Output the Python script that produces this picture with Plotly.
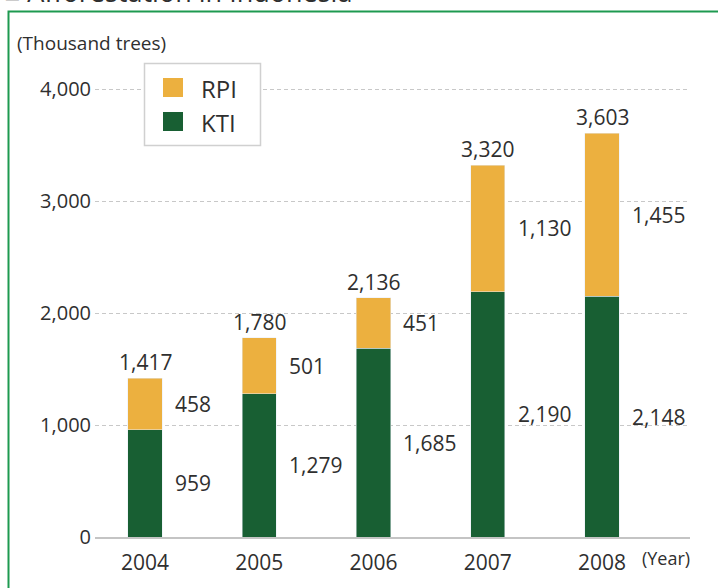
import plotly.graph_objects as go

# Afforestation volumes (thousand trees)
years = ["2004", "2005", "2006", "2007", "2008"]
kti = [959, 1279, 1685, 2190, 2148]
rpi = [458, 501, 451, 1130, 1455]
totals = [1417, 1780, 2136, 3320, 3603]
series_names = ["RPI", "KTI"]

W, H = 718, 588
ML, MR, MT, MB = 95, 28, 67, 51
PW, PH = W - ML - MR, H - MT - MB

ORANGE = "#ECB03F"
GREEN = "#185F33"
TEXT = "#2f2f2f"
FONT = "Open Sans"


def px(x):
    return (x - ML) / PW


def py(y):
    return (H - MB - y) / PH


xs = list(range(len(years)))
bar_w = 0.298

fig = go.Figure()
fig.add_trace(go.Bar(x=xs, y=kti, name=series_names[1], marker_color=GREEN,
                     width=bar_w, showlegend=False))
fig.add_trace(go.Bar(x=xs, y=rpi, name=series_names[0], marker_color=ORANGE,
                     width=bar_w, showlegend=False))

ann = []
# segment values beside each bar, totals above
for i in xs:
    ann.append(dict(x=i + 0.245, y=kti[i] / 2, xref="x", yref="y", text=f"{kti[i]:,}",
                    xanchor="left", yanchor="middle", showarrow=False,
                    font=dict(size=21, color=TEXT, family=FONT)))
    ann.append(dict(x=i + 0.245, y=kti[i] + rpi[i] / 2, xref="x", yref="y",
                    text=f"{rpi[i]:,}", xanchor="left", yanchor="middle", showarrow=False,
                    font=dict(size=21, color=TEXT, family=FONT)))
    ann.append(dict(x=i, y=totals[i], xref="x", yref="y", text=f"{totals[i]:,}",
                    xanchor="center", yanchor="bottom", yshift=0, showarrow=False,
                    font=dict(size=21, color=TEXT, family=FONT)))

# unit labels and heading
ann.append(dict(x=px(15), y=py(43), xref="paper", yref="paper", text="(Thousand trees)",
                xanchor="left", yanchor="middle", showarrow=False,
                font=dict(size=19, color=TEXT, family=FONT)))
ann.append(dict(x=px(640), y=py(558), xref="paper", yref="paper", text="(Year)",
                xanchor="left", yanchor="middle", showarrow=False,
                font=dict(size=18, color=TEXT, family=FONT)))
ann.append(dict(x=px(2), y=py(-9), xref="paper", yref="paper",
                text="■ Afforestation in Indonesia",
                xanchor="left", yanchor="middle", showarrow=False,
                font=dict(size=27, color=TEXT, family=FONT)))

# legend entries
ann.append(dict(x=px(199), y=py(88), xref="paper", yref="paper", text=series_names[0],
                xanchor="left", yanchor="middle", showarrow=False,
                font=dict(size=24, color=TEXT, family=FONT)))
ann.append(dict(x=px(199), y=py(122), xref="paper", yref="paper", text=series_names[1],
                xanchor="left", yanchor="middle", showarrow=False,
                font=dict(size=24, color=TEXT, family=FONT)))

shapes = [
    # outer frame
    dict(type="rect", xref="paper", yref="paper", x0=px(8.5), x1=px(740),
         y0=py(11.5), y1=py(620), line=dict(color="#1E9A50", width=2),
         fillcolor="rgba(0,0,0,0)"),
    # legend box and swatches
    dict(type="rect", xref="paper", yref="paper", x0=px(144.5), x1=px(260.5),
         y0=py(63.5), y1=py(145.5), line=dict(color="#d0d0d0", width=1.5),
         fillcolor="white"),
    dict(type="rect", xref="paper", yref="paper", x0=px(163), x1=px(183),
         y0=py(78), y1=py(97), line=dict(width=0), fillcolor=ORANGE),
    dict(type="rect", xref="paper", yref="paper", x0=px(163), x1=px(183),
         y0=py(112), y1=py(131), line=dict(width=0), fillcolor=GREEN),
]

fig.update_layout(
    width=W, height=H,
    margin=dict(l=ML, r=MR, t=MT, b=MB),
    paper_bgcolor="white", plot_bgcolor="white",
    barmode="stack",
    annotations=ann,
    shapes=shapes,
    font=dict(family=FONT, color=TEXT),
    xaxis=dict(range=[(ML - 145) / 114.25, (ML + PW - 145) / 114.25],
               tickvals=xs, ticktext=years, showgrid=False, zeroline=False,
               showline=True, linecolor="#c4c4c4", linewidth=2,
               ticks="", ticklabelstandoff=6,
               tickfont=dict(size=21, color=TEXT, family=FONT)),
    yaxis=dict(range=[0, PH / 0.112], tickvals=[0, 1000, 2000, 3000, 4000],
               tickformat=",", showgrid=True, gridcolor="#c8c8c8", gridwidth=1,
               griddash="4px,3px", zeroline=False, showline=False, ticks="",
               ticklabelstandoff=3,
               tickfont=dict(size=20, color=TEXT, family=FONT)),
)

fig.write_html("out.html")
